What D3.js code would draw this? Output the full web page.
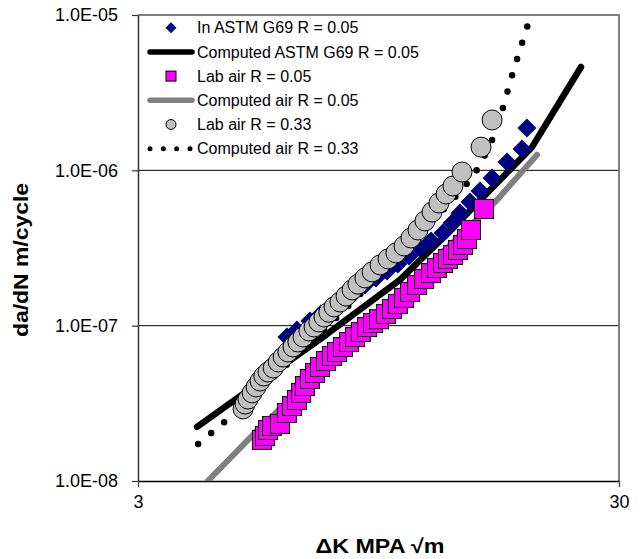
<!DOCTYPE html>
<html>
<head>
<meta charset="utf-8">
<script src="https://cdn.jsdelivr.net/npm/d3@7"></script>
<style>
  body { margin: 0; background: #fff; }
  svg { display: block; font-family: "Liberation Sans", Arial, sans-serif; }
</style>
</head>
<body>
<div id="chart"></div>
<script>
// ---- data ----
var xTicks = [3, 30];
var yTicks = [1e-8, 1e-7, 1e-6, 1e-5];

// In ASTM G69 R = 0.05 (diamonds)
var astmK = [6.12, 6.42, 6.83, 7.20, 7.59, 8.00, 8.44, 8.89, 9.37, 9.88, 10.41, 10.98, 11.57, 12.20, 12.92, 13.49, 14.02, 14.70, 15.42, 16.34, 17.55, 18.86, 19.31];
var astmRate = [8.45e-8, 9.38e-8, 1.07e-7, 1.19e-7, 1.32e-7, 1.46e-7, 1.62e-7, 1.83e-7, 2.03e-7, 2.25e-7, 2.49e-7, 2.81e-7, 3.16e-7, 3.51e-7, 3.95e-7, 4.58e-7, 5.31e-7, 6.26e-7, 7.36e-7, 8.93e-7, 1.13e-6, 1.37e-6, 1.87e-6];

// Computed ASTM G69 R = 0.05
var astmFitK = [3.98, 5.38, 7.27, 10.51, 13.55, 19.78, 25.01];
var astmFitRate = [2.23e-8, 4.34e-8, 8.45e-8, 1.97e-7, 4.25e-7, 1.41e-6, 4.63e-6];

// Lab air R = 0.05 (squares)
var airK = [5.43, 5.51, 5.59, 5.70, 5.92, 6.12, 6.27, 6.42, 6.55, 6.67, 6.83, 7.00, 7.17, 7.38, 7.59, 7.78, 8.00, 8.24, 8.48, 8.72, 8.98, 9.24, 9.51, 9.83, 10.12, 10.41, 10.72, 11.03, 11.41, 11.80, 12.20, 12.55, 12.92, 13.23, 13.55, 13.88, 14.22, 14.49, 14.77, 15.72];
var airRate = [1.84e-8, 1.95e-8, 2.13e-8, 2.26e-8, 2.33e-8, 2.74e-8, 3.04e-8, 3.32e-8, 3.69e-8, 4.09e-8, 4.54e-8, 4.96e-8, 5.42e-8, 5.92e-8, 6.38e-8, 6.77e-8, 7.29e-8, 7.85e-8, 8.45e-8, 9.11e-8, 9.80e-8, 1.04e-7, 1.10e-7, 1.19e-7, 1.28e-7, 1.38e-7, 1.51e-7, 1.65e-7, 1.83e-7, 2.00e-7, 2.18e-7, 2.35e-7, 2.53e-7, 2.69e-7, 2.85e-7, 3.07e-7, 3.31e-7, 3.61e-7, 4.13e-7, 5.64e-7];

// Computed air R = 0.05
var airFitK = [4.19, 5.25, 16.73, 20.26];
var airFitRate = [1.0e-8, 2.04e-8, 6.44e-7, 1.26e-6];

// Lab air R = 0.33 (circles)
var air33K = [4.96, 5.01, 5.08, 5.18, 5.28, 5.38, 5.48, 5.59, 5.73, 5.87, 6.01, 6.15, 6.30, 6.45, 6.61, 6.80, 6.97, 7.13, 7.31, 7.48, 7.67, 7.89, 8.12, 8.36, 8.60, 8.89, 9.20, 9.56, 9.93, 10.31, 10.72, 11.08, 11.46, 11.85, 12.26, 12.67, 13.11, 13.55, 14.15, 15.50, 16.34];
var air33Rate = [2.91e-8, 3.13e-8, 3.37e-8, 3.69e-8, 4.03e-8, 4.40e-8, 4.74e-8, 5.03e-8, 5.34e-8, 5.84e-8, 6.28e-8, 6.77e-8, 7.29e-8, 7.85e-8, 8.45e-8, 9.24e-8, 9.80e-8, 1.056e-7, 1.137e-7, 1.22e-7, 1.32e-7, 1.42e-7, 1.55e-7, 1.70e-7, 1.85e-7, 2.03e-7, 2.22e-7, 2.46e-7, 2.69e-7, 2.94e-7, 3.26e-7, 3.67e-7, 4.13e-7, 4.72e-7, 5.39e-7, 6.16e-7, 7.04e-7, 7.93e-7, 9.75e-7, 1.41e-6, 2.11e-6];

// Computed air R = 0.33
var air33FitK = [4.00, 4.51, 7.17, 10.51, 13.36, 14.77, 15.42, 16.49, 17.30, 18.06, 19.41];
var air33FitRate = [1.73e-8, 2.36e-8, 8.84e-8, 2.85e-7, 6.16e-7, 8.79e-7, 1.08e-6, 1.66e-6, 2.67e-6, 4.30e-6, 8.75e-6];

var legendLabels = ["In ASTM G69 R = 0.05", "Computed ASTM G69 R = 0.05", "Lab air R = 0.05",
                    "Computed air R = 0.05", "Lab air R = 0.33", "Computed air R = 0.33"];

// ---- layout ----
var width = 643, height = 559;
var margin = {left: 138, right: 24, top: 15, bottom: 78};
var plotW = width - margin.left - margin.right, plotH = height - margin.top - margin.bottom;

var svg = d3.select("#chart").append("svg")
  .attr("width", width).attr("height", height);

var xScale = d3.scaleLog().domain([3, 30]).range([0, plotW]);
var yScale = d3.scaleLog().domain([1e-8, 1e-5]).range([plotH, 0]);

function zip(a, b) { return a.map(function(v, i) { return [v, b[i]]; }); }

var viewport = svg.append("g")
  .attr("transform", "translate(" + margin.left + "," + margin.top + ")");

svg.append("defs").append("clipPath").attr("id", "plotclip")
  .append("rect").attr("x", 0).attr("y", 0).attr("width", plotW).attr("height", plotH);

// gridlines
viewport.selectAll(".grid")
  .data(yTicks.slice(1, 3)).enter().append("line")
    .attr("class", "grid")
    .attr("x1", 0).attr("x2", plotW)
    .attr("y1", function(d) { return yScale(d); })
    .attr("y2", function(d) { return yScale(d); })
    .attr("stroke", "#000").attr("stroke-width", 1);

// plot border (top / right)
viewport.append("path")
  .attr("d", "M0,0H" + plotW + "V" + plotH)
  .attr("fill", "none").attr("stroke", "#808080").attr("stroke-width", 2);

// y axis
var yAxis = viewport.append("g")
  .call(d3.axisLeft(yScale).tickValues(yTicks).tickSize(6).tickSizeOuter(0)
    .tickFormat(function(d) { return "1.0E-0" + Math.round(-Math.log10(d)); }));
yAxis.select(".domain").attr("stroke", "#333").attr("stroke-width", 1.5);
yAxis.selectAll(".tick line").attr("stroke", "#333").attr("stroke-width", 1.2);
yAxis.selectAll(".tick text").attr("x", -20).attr("font-size", 18)
  .attr("font-family", "Liberation Sans, Arial, sans-serif").attr("fill", "#000");

// x axis
var xAxis = viewport.append("g")
  .attr("transform", "translate(0," + plotH + ")")
  .call(d3.axisBottom(xScale).tickValues(xTicks).tickSize(6).tickSizeOuter(0)
    .tickFormat(d3.format("d")));
xAxis.select(".domain").attr("stroke", "#000").attr("stroke-width", 1.5);
xAxis.selectAll(".tick line").attr("stroke", "#555").attr("stroke-width", 1.5);
xAxis.selectAll(".tick text").attr("y", 14).attr("font-size", 18)
  .attr("font-family", "Liberation Sans, Arial, sans-serif").attr("fill", "#000");

// lines
var lineGen = d3.line()
  .x(function(d) { return xScale(d[0]); })
  .y(function(d) { return yScale(d[1]); });

var lines = viewport.append("g").attr("clip-path", "url(#plotclip)");

lines.append("path")
  .attr("d", lineGen(zip(airFitK, airFitRate)))
  .attr("fill", "none").attr("stroke", "#808080").attr("stroke-width", 6)
  .attr("stroke-linecap", "round").attr("stroke-linejoin", "round");

lines.append("path")
  .attr("d", lineGen(zip(astmFitK, astmFitRate)))
  .attr("fill", "none").attr("stroke", "#000").attr("stroke-width", 6.5)
  .attr("stroke-linecap", "round").attr("stroke-linejoin", "round");

lines.append("path")
  .attr("d", lineGen(zip(air33FitK, air33FitRate)))
  .attr("fill", "none").attr("stroke", "#000").attr("stroke-width", 6.5)
  .attr("stroke-linecap", "round").attr("stroke-dasharray", "0 17");

// markers
var diamond = "M0,-9.5L9.5,0L0,9.5L-9.5,0Z";

viewport.selectAll(".astm")
  .data(zip(astmK, astmRate)).enter().append("path")
    .attr("class", "astm")
    .attr("d", diamond)
    .attr("transform", function(d) { return "translate(" + xScale(d[0]) + "," + yScale(d[1]) + ")"; })
    .attr("fill", "#000080");

viewport.selectAll(".air")
  .data(zip(airK, airRate)).enter().append("rect")
    .attr("class", "air")
    .attr("x", function(d) { return xScale(d[0]) - 9.5; })
    .attr("y", function(d) { return yScale(d[1]) - 9.5; })
    .attr("width", 19).attr("height", 19)
    .attr("fill", "#FF00FF").attr("stroke", "#000").attr("stroke-width", 1);

viewport.selectAll(".air33")
  .data(zip(air33K, air33Rate)).enter().append("circle")
    .attr("class", "air33")
    .attr("cx", function(d) { return xScale(d[0]); })
    .attr("cy", function(d) { return yScale(d[1]); })
    .attr("r", 10)
    .attr("fill", "#C0C0C0").attr("stroke", "#000").attr("stroke-width", 1);

// legend
var legend = svg.append("g").attr("transform", "translate(0,0)");
var rowY = function(i) { return 27.7 + i * 24.2; };

legend.selectAll(".legtext")
  .data(legendLabels).enter().append("text")
    .attr("class", "legtext")
    .attr("x", 197).attr("y", function(d, i) { return rowY(i); })
    .attr("dy", "0.35em").attr("font-size", 16).attr("fill", "#000")
    .text(function(d) { return d; });

legend.append("path").attr("d", "M0,-5.5L5.5,0L0,5.5L-5.5,0Z")
  .attr("transform", "translate(171," + rowY(0) + ")").attr("fill", "#000080");
legend.append("line").attr("x1", 150).attr("x2", 192).attr("y1", rowY(1)).attr("y2", rowY(1))
  .attr("stroke", "#000").attr("stroke-width", 5.5).attr("stroke-linecap", "round");
legend.append("rect").attr("x", 166).attr("y", rowY(2) - 5).attr("width", 10).attr("height", 10)
  .attr("fill", "#FF00FF").attr("stroke", "#000").attr("stroke-width", 1);
legend.append("line").attr("x1", 150).attr("x2", 192).attr("y1", rowY(3)).attr("y2", rowY(3))
  .attr("stroke", "#808080").attr("stroke-width", 5.5).attr("stroke-linecap", "round");
legend.append("circle").attr("cx", 171).attr("cy", rowY(4)).attr("r", 5)
  .attr("fill", "#C0C0C0").attr("stroke", "#000").attr("stroke-width", 1);
legend.append("line").attr("x1", 150).attr("x2", 190).attr("y1", rowY(5)).attr("y2", rowY(5))
  .attr("stroke", "#000").attr("stroke-width", 5).attr("stroke-linecap", "round")
  .attr("stroke-dasharray", "0 13.33");

// axis titles
svg.append("text")
  .attr("x", 380).attr("y", 553)
  .attr("text-anchor", "middle").attr("font-size", 20).attr("font-weight", "bold")
  .attr("textLength", 129).attr("lengthAdjust", "spacingAndGlyphs")
  .text("\u0394K MPA \u221Am");

svg.append("text")
  .attr("transform", "translate(28,260) rotate(-90)")
  .attr("text-anchor", "middle").attr("font-size", 20).attr("font-weight", "bold")
  .attr("textLength", 154).attr("lengthAdjust", "spacingAndGlyphs")
  .text("da/dN m/cycle");
</script>
</body>
</html>
